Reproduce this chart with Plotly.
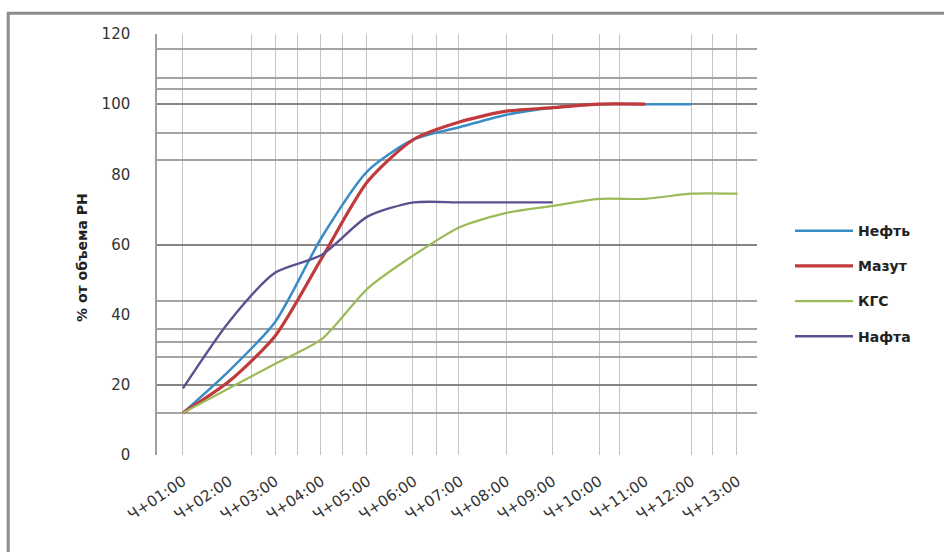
import plotly.graph_objects as go

# Time since start (hours) and share of the reservoir volume, %
hours = ["Ч+01:00", "Ч+02:00", "Ч+03:00", "Ч+04:00", "Ч+05:00", "Ч+06:00", "Ч+07:00",
         "Ч+08:00", "Ч+09:00", "Ч+10:00", "Ч+11:00", "Ч+12:00", "Ч+13:00"]
neft = [12, 24, 38, 62, 81, 90, 93.5, 97, 99, 100, 100, 100]
mazut = [12, 21, 34, 56, 78, 90, 95, 98, 99, 100, 100]
kgs = [12, 19, 26, 33, 47.5, 57, 65, 69, 71, 73, 73, 74.5, 74.5]
nafta = [19, 38, 52, 57, 68, 72, 72, 72, 72]

y_ticks = [0, 20, 40, 60, 80, 100, 120]
dark_grid = [20, 60, 100]
light_grid = [12, 27.9, 32.1, 35.8, 43.8, 84, 91.7, 104.2, 107.6, 115.6]
x_grid = [0, 1.49, 2, 2.49, 2.98, 3.46, 3.98, 4.97, 5.49, 5.97, 7, 8, 9.02, 9.45,
          11, 11.46, 11.98]

series = [
    ("Нефть", neft, "#3a8cc4", 2.5),
    ("Мазут", mazut, "#c0393b", 3.2),
    ("КГС", kgs, "#9bbb59", 2.2),
    ("Нафта", nafta, "#5c5190", 2.4),
]

fig = go.Figure()
for i, (name, vals, color, width) in enumerate(series):
    fig.add_trace(go.Scatter(
        x=list(range(len(vals))), y=vals, name=f"<b>{name}</b>", mode="lines",
        line=dict(color=color, width=width, shape="spline", smoothing=0.7),
        legendgroup=f"g{i}",
    ))

# helper trace so the overlay axis with the dark grid lines is rendered
fig.add_trace(go.Scatter(x=[None], y=[None], yaxis="y2", showlegend=False,
                         hoverinfo="skip"))

x_range = [-0.56, 12.42]
fig.update_layout(
    width=944, height=552,
    margin=dict(l=157, r=187, t=34, b=97),
    paper_bgcolor="white", plot_bgcolor="white",
    font=dict(family="DejaVu Sans", color="#2a2a2a"),
    showlegend=True,
    legend=dict(x=1.055, y=0.57, xanchor="left", yanchor="top",
                font=dict(size=14, family="DejaVu Sans", color="#222"),
                tracegroupgap=14, itemwidth=58, bgcolor="rgba(0,0,0,0)"),
    xaxis=dict(
        range=x_range, tickmode="array", tickvals=list(range(len(hours))),
        ticktext=hours, tickangle=-34, showgrid=False, zeroline=False,
        showline=False, ticks="", tickfont=dict(size=15, color="#333"),
        ticklabelstandoff=14,
        minor=dict(tickmode="array", tickvals=x_grid, showgrid=True,
                   gridcolor="#c4c4c4", gridwidth=1.4, ticks=""),
    ),
    yaxis=dict(
        range=[0, 120], tickmode="array", tickvals=y_ticks, showgrid=False,
        zeroline=False, showline=True, linecolor="#a0a0a0", linewidth=1.5,
        ticks="", tickfont=dict(size=15, color="#333"), ticklabelstandoff=22,
        minor=dict(tickmode="array", tickvals=light_grid, showgrid=True,
                   gridcolor="#a4a4a4", gridwidth=1.6, ticks=""),
    ),
    yaxis2=dict(
        range=[0, 120], overlaying="y", side="left", tickmode="array",
        tickvals=dark_grid, showgrid=True, gridcolor="#858585", gridwidth=2,
        showticklabels=False, zeroline=False, showline=False, ticks="",
    ),
)

# axis title placed to the left of the tick labels
fig.add_annotation(
    text="<b>% от объема РН</b>", textangle=-90, xref="paper", yref="paper",
    x=-0.142, y=0.47, showarrow=False, font=dict(size=14, color="#222"),
)

# chart frame
fig.add_shape(type="rect", xref="paper", yref="paper",
              x0=-0.248, x1=1.32, y0=-0.25, y1=1.049,
              line=dict(color="#8c8c8c", width=3), layer="below")

fig.write_html("out.html")
